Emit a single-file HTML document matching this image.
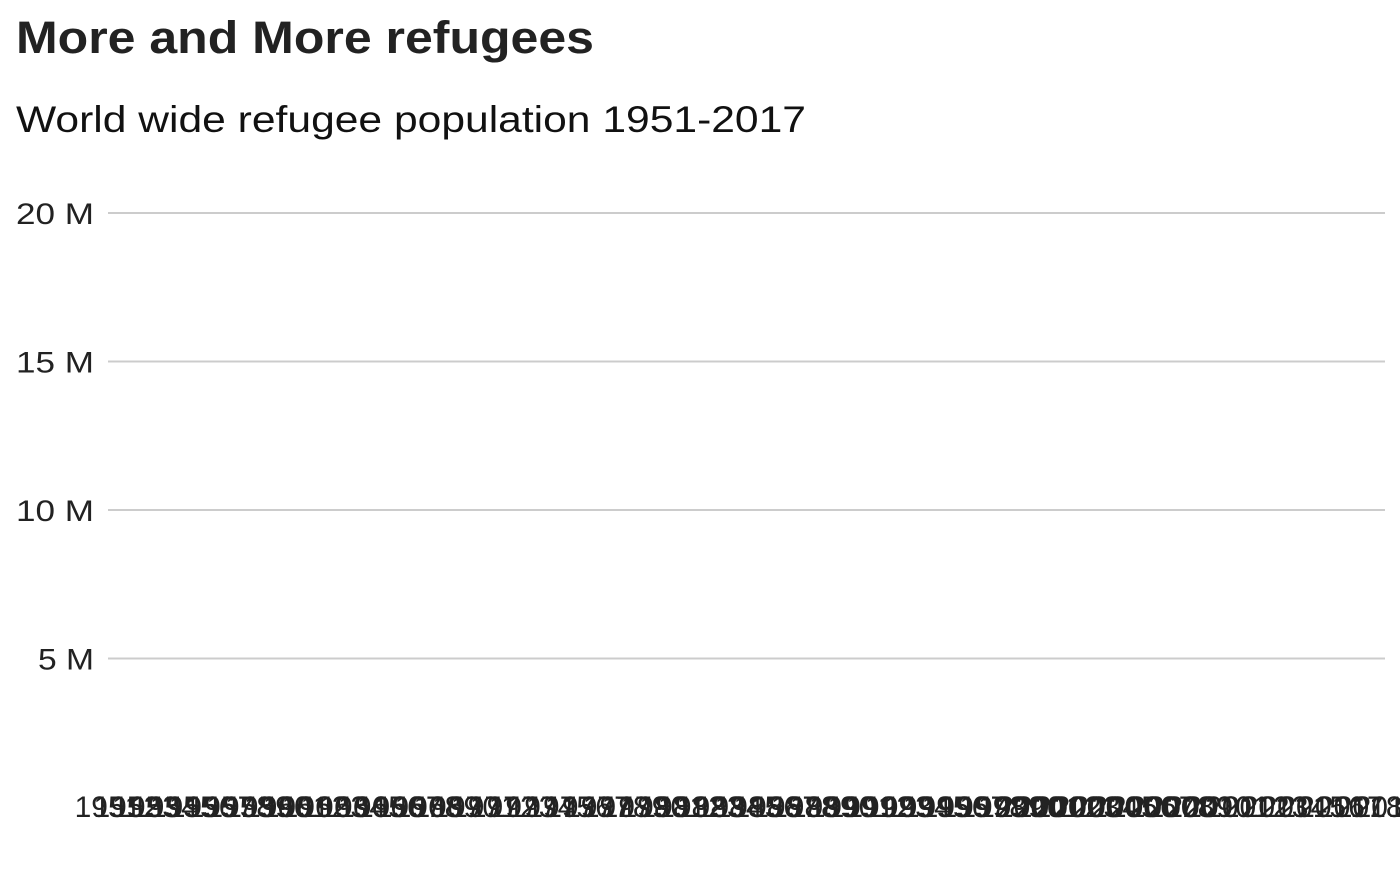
<!DOCTYPE html>
<html><head><meta charset="utf-8"><style>
html,body{margin:0;padding:0;background:#fff;}
body{width:1400px;height:865px;overflow:hidden;font-family:"Liberation Sans",sans-serif;}
</style></head><body>
<svg id="chart" width="1400" height="865" xmlns="http://www.w3.org/2000/svg">
<text x="16" y="53" font-size="45" font-weight="bold" fill="#222" textLength="578" lengthAdjust="spacingAndGlyphs" font-family="Liberation Sans, sans-serif">More and More refugees</text>
<text x="16" y="132" font-size="37" fill="#111" textLength="790" lengthAdjust="spacingAndGlyphs" font-family="Liberation Sans, sans-serif">World wide refugee population 1951-2017</text>
<g id="grid"></g><g id="marks"></g><g id="xaxis"></g>
</svg>
<script>
const years = [];
for (let y = 1951; y <= 2019; y++) years.push(y);
const yTicks = [5, 10, 15, 20];
const yTickLabels = ["5 M", "10 M", "15 M", "20 M"];
const values = years.map(() => null); // no visible marks in reference

const NS = "http://www.w3.org/2000/svg";
const left = 108, right = 1385, y0 = 807, yTop = 213;
const yScale = v => y0 - (v / 20) * (y0 - yTop);
const xStep = (1388 - 108) / (years.length - 1);
const xScale = i => 108 + i * xStep;

const grid = document.getElementById('grid');
yTicks.forEach((t, i) => {
  const l = document.createElementNS(NS, 'line');
  
  
  l.setAttribute('x1', left); l.setAttribute('x2', right);
  l.setAttribute('y1', yScale(t)); l.setAttribute('y2', yScale(t));
  l.setAttribute('stroke', '#cccccc'); l.setAttribute('stroke-width', '2');
  grid.appendChild(l);
  const tx = document.createElementNS(NS, 'text');
  
  
  tx.setAttribute('x', 94); tx.setAttribute('y', yScale(t) + 11);
  tx.setAttribute('text-anchor', 'end'); tx.setAttribute('font-size', '30');
  tx.setAttribute('textLength', yTickLabels[i].length === 4 ? 78 : 56);
  tx.setAttribute('lengthAdjust', 'spacingAndGlyphs');
  tx.setAttribute('fill', '#222');
  tx.textContent = yTickLabels[i];
  grid.appendChild(tx);
});

const marks = document.getElementById('marks');
values.forEach((v, i) => {
  if (v == null) return;
  const r = document.createElementNS(NS, 'rect');
  
  
  r.setAttribute('x', xScale(i) - xStep * 0.4); r.setAttribute('width', xStep * 0.8);
  r.setAttribute('y', yScale(v)); r.setAttribute('height', y0 - yScale(v));
  r.setAttribute('fill', '#4a7fb0');
  marks.appendChild(r);
});

const xa = document.getElementById('xaxis');
years.forEach((yr, i) => {
  const tx = document.createElementNS(NS, 'text');
  
  
  tx.setAttribute('x', xScale(i)); tx.setAttribute('y', 817);
  tx.setAttribute('text-anchor', 'middle'); tx.setAttribute('font-size', '30');
  tx.setAttribute('fill', '#222');
  tx.textContent = yr;
  xa.appendChild(tx);
});
</script>
</body></html>
